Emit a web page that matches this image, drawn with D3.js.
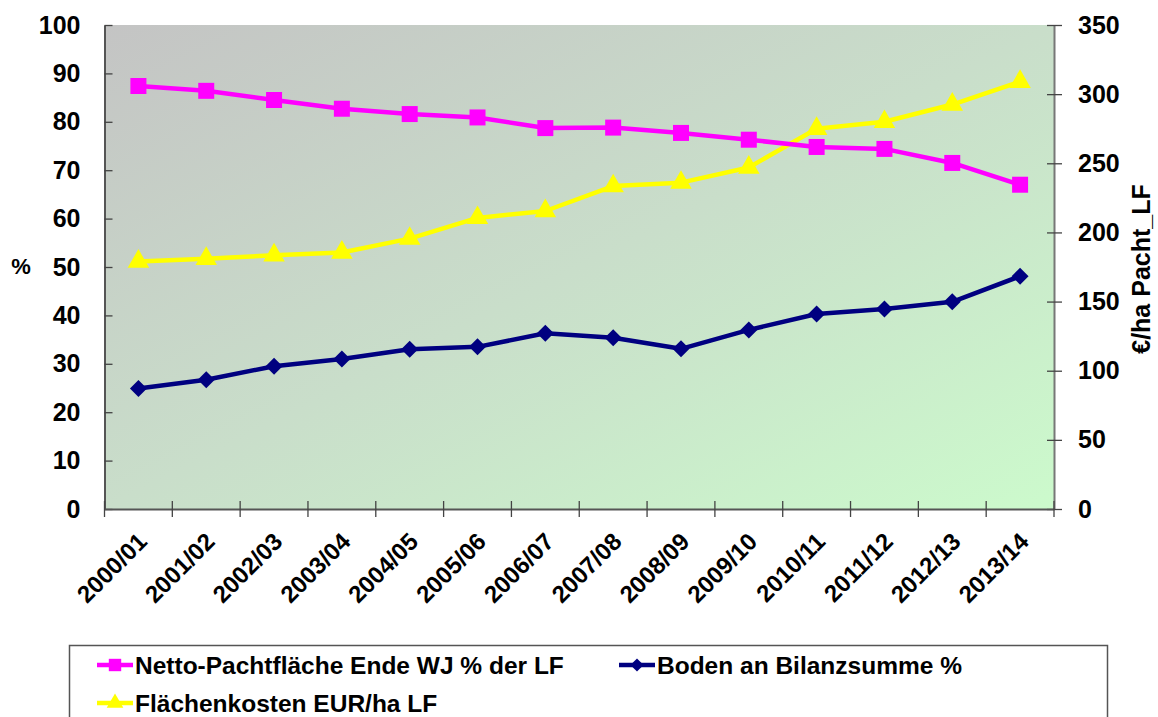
<!DOCTYPE HTML>
<html>
<head>
<meta charset="utf-8">
<style>
html, body {
  margin:0;
  padding:0;
  background:white;
}
svg {
  display:block;
  font-family:"Liberation Sans", Arial, sans-serif;
  font-weight:bold;
}
</style>
</head>
<body>
<div id="chart"></div>
<script src="https://cdn.jsdelivr.net/npm/d3@7"></script>
<script>
// data
const categories = ["2000/01","2001/02","2002/03","2003/04","2004/05","2005/06","2006/07",
                    "2007/08","2008/09","2009/10","2010/11","2011/12","2012/13","2013/14"];
const pachtflaeche = [87.4, 86.4, 84.5, 82.7, 81.6, 80.9, 78.7, 78.8, 77.7, 76.3, 74.8, 74.4, 71.5, 67.0];
const boden        = [24.9, 26.7, 29.5, 31.0, 33.0, 33.5, 36.3, 35.4, 33.1, 37.0, 40.3, 41.3, 42.8, 48.1];
const kosten       = [179, 181, 183.5, 185.5, 195.5, 210.5, 215.5, 233.5, 236, 247, 275, 280, 292.5, 309];
const leftTicks  = [0,10,20,30,40,50,60,70,80,90,100];
const rightTicks = [0,50,100,150,200,250,300,350];

const W = 1158, H = 717;
const margin = {top: 25, right: 104, bottom: 208, left: 104.5};
const width  = W - margin.left - margin.right,
      height = H - margin.top - margin.bottom;

const svg = d3.select("#chart").append("svg")
  .attr("width", W)
  .attr("height", H);

// background gradient of the plot area
const defs = svg.append("defs");
const grad = defs.append("linearGradient")
  .attr("id","bg")
  .attr("x1","0").attr("y1","0")
  .attr("x2","1").attr("y2","1");
grad.append("stop").attr("offset","0%").attr("stop-color","#c4c4c4");
grad.append("stop").attr("offset","50%").attr("stop-color","#c9deca");
grad.append("stop").attr("offset","100%").attr("stop-color","#ccfacc");

const g = svg.append("g").attr("transform", `translate(${margin.left},${margin.top})`);

const x = d3.scaleBand().domain(categories).range([0, width]).paddingInner(0).paddingOuter(0);
const yL = d3.scaleLinear().domain([0,100]).range([height, 0]);
const yR = d3.scaleLinear().domain([0,350]).range([height, 0]);
const cx = d => x(d) + x.bandwidth()/2;

g.append("rect")
  .attr("width", width)
  .attr("height", height)
  .attr("fill", "url(#bg)");

// left axis
const axL = g.append("g")
  .call(d3.axisLeft(yL).tickValues(leftTicks).tickSize(8).tickPadding(16).tickSizeOuter(0));
axL.select(".domain").attr("stroke","#555").attr("stroke-width",2);
axL.selectAll(".tick line").attr("stroke","#444").attr("stroke-width",1.3).attr("x2", 8);
axL.selectAll("text").attr("font-size","25px").attr("fill","#000").attr("font-weight","bold");

// right axis
const axR = g.append("g")
  .attr("transform", `translate(${width},0)`)
  .call(d3.axisRight(yR).tickValues(rightTicks).tickSize(8).tickPadding(16).tickSizeOuter(0));
axR.select(".domain").attr("stroke","#777").attr("stroke-width",2);
axR.selectAll(".tick line").attr("stroke","#444").attr("stroke-width",1.3).attr("x1", -7);
axR.selectAll("text").attr("font-size","25px").attr("fill","#000").attr("font-weight","bold");

// bottom axis: ticks on category boundaries
const axB = g.append("g")
  .attr("transform", `translate(0,${height})`)
  .call(d3.axisBottom(x).tickSize(0).tickPadding(0));
axB.select(".domain").attr("stroke","#555").attr("stroke-width",2);
axB.selectAll(".tick text")
  .attr("font-size","24px")
  .attr("fill","#000")
  .attr("font-weight","bold")
  .attr("text-anchor","end")
  .attr("dy", null)
  .attr("transform","translate(10,34) rotate(-45)");

g.append("g")
  .selectAll("line")
  .data(categories.concat([null]))
  .join("line")
  .attr("x1", d => d === null ? width : x(d))
  .attr("x2", d => d === null ? width : x(d))
  .attr("y1", height - 8)
  .attr("y2", height + 8)
  .attr("stroke","#444")
  .attr("stroke-width",1.3);

// axis titles
svg.append("text")
  .attr("x", 21).attr("y", 274)
  .attr("text-anchor","middle")
  .attr("font-size","22px")
  .text("%");
svg.append("text")
  .attr("transform", "translate(1150,269) rotate(-90)")
  .attr("text-anchor","middle")
  .attr("font-size","25px")
  .text("€/ha Pacht_LF");

// series
const diamond = {
  draw(ctx, size) {
    const r = Math.sqrt(size) / 2;
    ctx.moveTo(0, -r); ctx.lineTo(r, 0); ctx.lineTo(0, r); ctx.lineTo(-r, 0); ctx.closePath();
  }
};
const series = [
  {name:"Netto-Pachtfläche Ende WJ % der LF", values:pachtflaeche, y:yL, color:"#ff00ff", symbol:d3.symbolSquare, size:256},
  {name:"Boden an Bilanzsumme %", values:boden, y:yL, color:"#000080", symbol:diamond, size:289},
  {name:"Flächenkosten EUR/ha LF", values:kosten, y:yR, color:"#ffff00", symbol:d3.symbolTriangle, size:200}
];

const drawOrder = [series[2], series[1], series[0]];
drawOrder.forEach(s => {
  const line = d3.line()
    .x((d,i) => cx(categories[i]))
    .y(d => s.y(d));
  g.append("path")
    .datum(s.values)
    .attr("fill","none")
    .attr("stroke", s.color)
    .attr("stroke-width", 4.5)
    .attr("stroke-linejoin","round")
    .attr("d", line);
  g.append("g")
    .selectAll("path")
    .data(s.values)
    .join("path")
    .attr("transform", (d,i) => `translate(${cx(categories[i])},${s.y(d)})`)
    .attr("d", d3.symbol().type(s.symbol).size(s.size))
    .attr("fill", s.color);
});

// legend
const legend = svg.append("g");
legend.append("rect")
  .attr("x", 69.5).attr("y", 645.5)
  .attr("width", 1038).attr("height", 100)
  .attr("fill","white")
  .attr("stroke","#555")
  .attr("stroke-width",1.5);

const legendPos = [
  {x:97, y:665},
  {x:619, y:665},
  {x:97, y:703}
];
series.forEach((s,i) => {
  const p = legendPos[i];
  const lg = legend.append("g").attr("transform", `translate(${p.x},${p.y})`);
  lg.append("line")
    .attr("x1",0).attr("x2",36)
    .attr("stroke", s.color).attr("stroke-width",4.5);
  lg.append("path")
    .attr("transform","translate(18,0)")
    .attr("d", d3.symbol().type(s.symbol).size(s.size*0.6))
    .attr("fill", s.color);
  lg.append("text")
    .attr("x", 38).attr("y", 0)
    .attr("dy","0.36em")
    .attr("font-size","24.5px")
    .text(s.name);
});
</script>
</body>
</html>
